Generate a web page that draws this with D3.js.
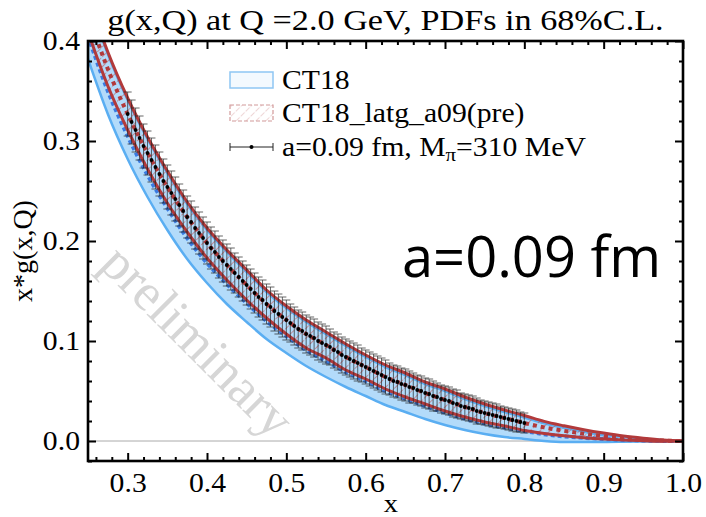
<!DOCTYPE html>
<html><head><meta charset="utf-8">
<script src="https://cdn.jsdelivr.net/npm/d3@7"></script>
<style>body{margin:0;background:#fff}</style>
</head><body>
<svg id="chart" width="706" height="517"></svg>
<script>
// ---- band grid (x) ----
const bandX = [0.250,0.275,0.300,0.325,0.350,0.375,0.400,0.425,0.450,0.475,0.500,0.525,0.550,0.575,0.600,0.625,0.650,0.675,0.700,0.725,0.750,0.775,0.800,0.825,0.850,0.875,0.900,0.925,0.950,0.975,1.000];

// CT18 68% C.L. band
const ct18Lower   = [0.382,0.327,0.282,0.244,0.211,0.182,0.158,0.137,0.119,0.102,0.088,0.075,0.064,0.054,0.045,0.036,0.029,0.022,0.016,0.011,0.007,0.004,0.002,0.000,-0.001,-0.001,-0.001,-0.0008,-0.0005,-0.0002,0.000];
const ct18Central = [0.405,0.350,0.305,0.266,0.233,0.203,0.178,0.157,0.138,0.120,0.105,0.091,0.080,0.069,0.060,0.050,0.0425,0.035,0.0285,0.0225,0.0175,0.0135,0.010,0.0068,0.0046,0.0032,0.0020,0.0011,0.0005,0.0001,0.000];
const ct18Upper   = [0.443,0.387,0.341,0.302,0.268,0.237,0.211,0.189,0.169,0.149,0.133,0.119,0.107,0.095,0.084,0.074,0.066,0.057,0.050,0.042,0.035,0.029,0.0235,0.0176,0.0132,0.0093,0.0059,0.0042,0.0023,0.0008,0.0001];

// CT18_latg_a09(pre) band
const latgLower   = [0.409,0.355,0.311,0.272,0.238,0.209,0.183,0.161,0.141,0.123,0.107,0.093,0.083,0.071,0.062,0.052,0.044,0.037,0.030,0.024,0.019,0.015,0.0105,0.0076,0.0052,0.0033,0.0019,0.0009,0.0003,-0.0002,-0.0002];
const latgCentral = [0.427,0.372,0.327,0.288,0.254,0.224,0.198,0.176,0.156,0.137,0.121,0.107,0.096,0.084,0.074,0.064,0.056,0.048,0.041,0.034,0.028,0.023,0.018,0.0136,0.0102,0.0073,0.0049,0.0029,0.0015,0.0004,0.000];
const latgUpper   = [0.445,0.389,0.343,0.304,0.270,0.239,0.213,0.191,0.171,0.151,0.135,0.121,0.109,0.097,0.086,0.076,0.068,0.059,0.052,0.044,0.037,0.031,0.0255,0.0196,0.0152,0.0113,0.0079,0.0049,0.0027,0.0010,0.0002];

// lattice points a=0.09 fm, M_pi=310 MeV
const latX = [0.300,0.305,0.310,0.315,0.320,0.325,0.330,0.335,0.340,0.345,0.350,0.355,0.360,0.365,0.370,0.375,0.380,0.385,0.390,0.395,
0.400,0.405,0.410,0.415,0.420,0.425,0.430,0.435,0.440,0.445,0.450,0.455,0.460,0.465,0.470,0.475,0.480,0.485,0.490,0.495,
0.500,0.505,0.510,0.515,0.520,0.525,0.530,0.535,0.540,0.545,0.550,0.555,0.560,0.565,0.570,0.575,0.580,0.585,0.590,0.595,
0.600,0.605,0.610,0.615,0.620,0.625,0.630,0.635,0.640,0.645,0.650,0.655,0.660,0.665,0.670,0.675,0.680,0.685,0.690,0.695,
0.700,0.705,0.710,0.715,0.720,0.725,0.730,0.735,0.740,0.745,0.750,0.755,0.760,0.765,0.770,0.775,0.780,0.785,0.790,0.795,0.800];
const latY = [0.327,0.319,0.311,0.303,0.295,0.288,0.281,0.274,0.267,0.260,0.254,0.248,0.242,0.236,0.230,0.224,0.219,0.213,0.208,0.203,
0.198,0.193,0.189,0.184,0.180,0.176,0.172,0.168,0.164,0.160,0.156,0.152,0.148,0.144,0.141,0.137,0.134,0.130,0.127,0.124,
0.121,0.118,0.115,0.112,0.110,0.107,0.105,0.103,0.100,0.098,0.096,0.094,0.091,0.089,0.086,0.084,0.082,0.080,0.078,0.076,
0.074,0.072,0.070,0.068,0.066,0.064,0.062,0.060,0.059,0.057,0.056,0.054,0.053,0.051,0.050,0.048,0.047,0.045,0.044,0.042,
0.041,0.040,0.038,0.037,0.035,0.034,0.033,0.032,0.030,0.029,0.028,0.027,0.026,0.025,0.024,0.023,0.022,0.021,0.020,0.019,0.018];
const latErr = [0.022,0.022,0.022,0.022,0.022,0.022,0.022,0.022,0.022,0.022,0.022,0.022,0.022,0.021,0.021,0.021,0.021,0.021,0.021,0.021,
0.021,0.021,0.021,0.021,0.021,0.021,0.021,0.020,0.020,0.020,0.020,0.020,0.020,0.020,0.020,0.020,0.020,0.020,0.020,0.020,
0.020,0.019,0.019,0.019,0.019,0.019,0.019,0.019,0.019,0.019,0.019,0.018,0.018,0.018,0.018,0.018,0.018,0.018,0.018,0.017,
0.017,0.017,0.017,0.017,0.017,0.017,0.016,0.016,0.016,0.016,0.016,0.016,0.015,0.015,0.015,0.015,0.015,0.015,0.014,0.014,
0.014,0.014,0.014,0.014,0.013,0.013,0.013,0.013,0.013,0.012,0.012,0.012,0.012,0.012,0.011,0.011,0.011,0.011,0.011,0.010,0.010];

// axis ticks
const xMajor = [0.3,0.4,0.5,0.6,0.7,0.8,0.9,1.0];
const xMinor = [0.26,0.28,0.32,0.34,0.36,0.38,0.42,0.44,0.46,0.48,0.52,0.54,0.56,0.58,0.62,0.64,0.66,0.68,0.72,0.74,0.76,0.78,0.82,0.84,0.86,0.88,0.92,0.94,0.96,0.98];
const yMajor = [0.0,0.1,0.2,0.3,0.4];
const yMinor = [-0.02,0.02,0.04,0.06,0.08,0.12,0.14,0.16,0.18,0.22,0.24,0.26,0.28,0.32,0.34,0.36,0.38];

const titleText = "g(x,Q) at Q =2.0 GeV, PDFs in 68%C.L.";
const legendLabels = ["CT18", "CT18_latg_a09(pre)"];
const bigLabel = "a=0.09 fm";
const watermark = "preliminary";

// ---- drawing ----
const serif = "'Liberation Serif','Times New Roman',serif";
const WIDEN = 1.1;   // serif labels are drawn slightly wide
const svg = d3.select("#chart");
const L = 88, R = 683, T = 41, B = 461;
const x = d3.scaleLinear().domain([0.25, 1.0]).range([L, R]);
const y = d3.scaleLinear().domain([-0.02, 0.4]).range([B, T]);

function widen(sel, k) {
  sel.each(function () {
    const w = this.getComputedTextLength();
    if (w > 0) d3.select(this).attr("textLength", w * k).attr("lengthAdjust", "spacingAndGlyphs");
  });
}

const defs = svg.append("defs");
defs.append("clipPath").attr("id", "plotclip")
  .append("rect").attr("x", L).attr("y", T).attr("width", R - L).attr("height", B - T);
const hatch = defs.append("pattern").attr("id", "hatch").attr("patternUnits", "userSpaceOnUse")
  .attr("width", 7).attr("height", 7).attr("patternTransform", "rotate(45)");
hatch.append("line").attr("x1", 0).attr("y1", 0).attr("x2", 0).attr("y2", 7)
  .attr("stroke", "#c25a5a").attr("stroke-width", 1.2).attr("stroke-dasharray", "3,1.5");
const hatchL = defs.append("pattern").attr("id", "hatchL").attr("patternUnits", "userSpaceOnUse")
  .attr("width", 7).attr("height", 7).attr("patternTransform", "rotate(45)");
hatchL.append("line").attr("x1", 0).attr("y1", 0).attr("x2", 0).attr("y2", 7)
  .attr("stroke", "#e0b0b0").attr("stroke-width", 1).attr("stroke-dasharray", "3,1.5");

const plot = svg.append("g").attr("clip-path", "url(#plotclip)");

// zero line
plot.append("line").attr("x1", L).attr("x2", R).attr("y1", y(0)).attr("y2", y(0))
  .attr("stroke", "#aaaaaa").attr("stroke-width", 1);

const idx = d3.range(bandX.length);
const areaOf = (lo, hi) => d3.area().curve(d3.curveMonotoneX)
  .x(i => x(bandX[i])).y0(i => y(lo[i])).y1(i => y(hi[i]));
const lineOf = arr => d3.line().curve(d3.curveMonotoneX).x(i => x(bandX[i])).y(i => y(arr[i]));

// CT18 band
plot.append("path").attr("d", areaOf(ct18Lower, ct18Upper)(idx)).attr("fill", "#b3dbfa");
[ct18Lower, ct18Upper].forEach(a => plot.append("path").attr("d", lineOf(a)(idx))
  .attr("fill", "none").attr("stroke", "#5aaef2").attr("stroke-width", 2.5));
plot.append("path").attr("d", lineOf(ct18Central)(idx)).attr("fill", "none")
  .attr("stroke", "#3a7be0").attr("stroke-width", 4).attr("stroke-dasharray", "4,3");

// CT18_latg band
plot.append("path").attr("d", areaOf(latgLower, latgUpper)(idx)).attr("fill", "url(#hatch)");
[latgLower, latgUpper].forEach(a => plot.append("path").attr("d", lineOf(a)(idx))
  .attr("fill", "none").attr("stroke", "#b23a3b").attr("stroke-width", 3));
plot.append("path").attr("d", lineOf(latgCentral)(idx)).attr("fill", "none")
  .attr("stroke", "#b23a3b").attr("stroke-width", 4).attr("stroke-dasharray", "4,4");

// lattice points with error bars
const pts = plot.append("g");
latX.forEach((xv, i) => {
  const cx = x(xv), top = y(latY[i] + latErr[i]), bot = y(latY[i] - latErr[i]);
  const g = pts.append("g").attr("stroke", "#222").attr("stroke-width", 0.8).attr("opacity", 0.85);
  g.append("line").attr("x1", cx).attr("x2", cx).attr("y1", top).attr("y2", bot);
  g.append("line").attr("x1", cx - 4).attr("x2", cx + 4).attr("y1", top).attr("y2", top);
  g.append("line").attr("x1", cx - 4).attr("x2", cx + 4).attr("y1", bot).attr("y2", bot);
});
latX.forEach((xv, i) => {
  pts.append("circle").attr("cx", x(xv)).attr("cy", y(latY[i])).attr("r", 1.9).attr("fill", "#000");
});

// watermark
svg.append("text").attr("transform", "translate(98,266) rotate(45)")
  .attr("font-family", serif).attr("font-size", 53).attr("fill", "#d6d6d6")
  .text(watermark);

// axes: ticks inward on all four sides
function styleAxis(g) {
  g.select(".domain").remove();
  g.selectAll(".tick line").attr("stroke", "#000").attr("stroke-width", 2);
  g.selectAll("text").attr("font-family", serif).attr("font-size", 27).attr("fill", "#000");
}
const fmt = d3.format(".1f");
const xAxis = svg.append("g").attr("transform", `translate(0,${B})`)
  .call(d3.axisBottom(x).tickValues(xMajor).tickSize(-8).tickPadding(12).tickFormat(fmt)).call(styleAxis);
svg.append("g").attr("transform", `translate(0,${B})`)
  .call(d3.axisBottom(x).tickValues(xMinor).tickSize(-4).tickFormat("")).call(styleAxis);
svg.append("g").attr("transform", `translate(0,${T})`)
  .call(d3.axisTop(x).tickValues(xMajor).tickSize(-8).tickFormat("")).call(styleAxis);
svg.append("g").attr("transform", `translate(0,${T})`)
  .call(d3.axisTop(x).tickValues(xMinor).tickSize(-4).tickFormat("")).call(styleAxis);
const yAxis = svg.append("g").attr("transform", `translate(${L},0)`)
  .call(d3.axisLeft(y).tickValues(yMajor).tickSize(-8).tickPadding(8).tickFormat(fmt)).call(styleAxis);
svg.append("g").attr("transform", `translate(${L},0)`)
  .call(d3.axisLeft(y).tickValues(yMinor).tickSize(-4).tickFormat("")).call(styleAxis);
svg.append("g").attr("transform", `translate(${R},0)`)
  .call(d3.axisRight(y).tickValues(yMajor).tickSize(-8).tickFormat("")).call(styleAxis);
svg.append("g").attr("transform", `translate(${R},0)`)
  .call(d3.axisRight(y).tickValues(yMinor).tickSize(-4).tickFormat("")).call(styleAxis);
widen(xAxis.selectAll("text"), WIDEN);
widen(yAxis.selectAll("text"), WIDEN);

svg.append("rect").attr("x", L).attr("y", T).attr("width", R - L).attr("height", B - T)
  .attr("fill", "none").attr("stroke", "#000").attr("stroke-width", 2.6);

// titles
svg.append("text").attr("x", (L + R) / 2).attr("y", 30).attr("text-anchor", "middle")
  .attr("font-family", serif).attr("font-size", 30).text(titleText).call(widen, 1.14);
svg.append("text").attr("x", 391).attr("y", 512).attr("text-anchor", "middle")
  .attr("font-family", serif).attr("font-size", 26).text("x").call(widen, WIDEN);
svg.append("text").attr("transform", `translate(32,${(T + B) / 2}) rotate(-90)`).attr("text-anchor", "middle")
  .attr("font-family", serif).attr("font-size", 28).text("x*g(x,Q)");

// big label
svg.append("text").attr("x", 402).attr("y", 277)
  .attr("font-family", "'Open Sans','Noto Sans',sans-serif").attr("font-size", 56).text(bigLabel);

// legend
const lg = svg.append("g");
lg.append("rect").attr("x", 230).attr("y", 72).attr("width", 43).attr("height", 16)
  .attr("fill", "#f3f9fe").attr("stroke", "#8fc6f3").attr("stroke-width", 1.5);
lg.append("rect").attr("x", 230).attr("y", 105).attr("width", 43).attr("height", 16)
  .attr("fill", "url(#hatchL)").attr("stroke", "#d29a9a").attr("stroke-width", 1.2).attr("stroke-dasharray", "4,2");
const ly = 147;
lg.append("line").attr("x1", 230).attr("x2", 273).attr("y1", ly).attr("y2", ly).attr("stroke", "#222").attr("stroke-width", 1);
[230, 273].forEach(cx => lg.append("line").attr("x1", cx).attr("x2", cx).attr("y1", ly - 4).attr("y2", ly + 4)
  .attr("stroke", "#222").attr("stroke-width", 1));
lg.append("circle").attr("cx", 251.5).attr("cy", ly).attr("r", 2).attr("fill", "#000");
lg.append("text").attr("x", 282).attr("y", 89).attr("font-family", serif).attr("font-size", 27)
  .text(legendLabels[0]).call(widen, WIDEN);
lg.append("text").attr("x", 282).attr("y", 122).attr("font-family", serif).attr("font-size", 27)
  .text(legendLabels[1]).call(widen, WIDEN);
const t3 = lg.append("g").attr("transform", "translate(282,156) scale(1.1,1)").append("text")
  .attr("font-family", serif).attr("font-size", 27);
t3.append("tspan").text("a=0.09 fm, M");
t3.append("tspan").attr("font-size", 19).attr("dy", 5).text("π");
t3.append("tspan").attr("dy", -5).text("=310 MeV");
</script></body></html>
